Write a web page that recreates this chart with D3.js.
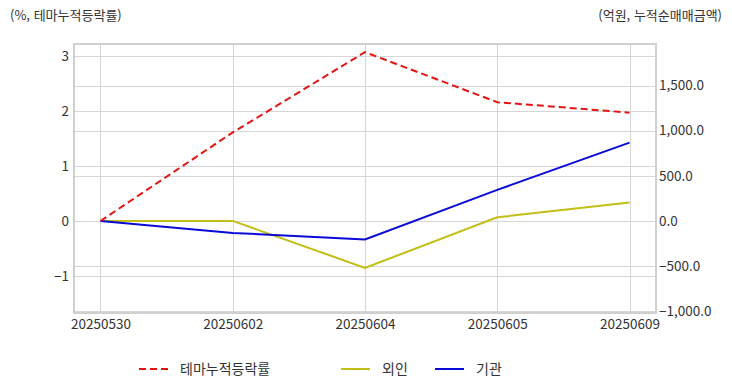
<!DOCTYPE html>
<html lang="ko">
<head>
<meta charset="UTF-8">
<script src="https://d3js.org/d3.v7.min.js"></script>
<style>
  html, body { margin: 0; padding: 0; background: #fff; }
  svg text { font-family: 'Noto Sans CJK KR', 'Noto Sans', sans-serif; fill: #333; }
</style>
</head>
<body>
<div id="chart"></div>
<script>
// dates on the x axis
var dates = ['20250530', '20250602', '20250604', '20250605', '20250609'];
// left axis: theme cumulative change (%)
var themeRate = [0, 1.61, 3.07, 2.16, 1.97];
// right axis: cumulative net buying (100M KRW)
var foreignNet = [0, 0, -520, 40, 205];
var instNet = [0, -133, -205, 344, 867];

var leftTicks = [-1, 0, 1, 2, 3];
var rightTicks = [-1000, -500, 0, 500, 1000, 1500];

var W = 732, H = 392;
var plot = { left: 74, right: 656, top: 44, bottom: 313 };

var svg = d3.select('#chart').append('svg')
  .attr('width', W).attr('height', H);

var x = d3.scalePoint()
  .domain(dates)
  .range([plot.left, plot.right])
  .padding(0.2);

var yL = d3.scaleLinear().domain([-1.673, 3.218]).range([plot.bottom, plot.top]);
var yR = d3.scaleLinear().domain([-1020, 1960]).range([plot.bottom, plot.top]);

// grid
var grid = svg.append('g').attr('stroke', '#d6d6d6').attr('stroke-width', 1);
grid.selectAll('.gl').data(leftTicks).enter().append('line')
  .attr('x1', plot.left).attr('x2', plot.right)
  .attr('y1', function(d) { return Math.round(yL(d)) + 0.5; })
  .attr('y2', function(d) { return Math.round(yL(d)) + 0.5; });
grid.selectAll('.gr').data(rightTicks).enter().append('line')
  .attr('x1', plot.left).attr('x2', plot.right)
  .attr('y1', function(d) { return Math.round(yR(d)) + 0.5; })
  .attr('y2', function(d) { return Math.round(yR(d)) + 0.5; });
grid.selectAll('.gx').data(dates).enter().append('line')
  .attr('y1', plot.top).attr('y2', plot.bottom)
  .attr('x1', function(d) { return Math.round(x(d)) + 0.5; })
  .attr('x2', function(d) { return Math.round(x(d)) + 0.5; });

// frame
svg.append('rect')
  .attr('x', plot.left).attr('y', plot.top)
  .attr('width', plot.right - plot.left).attr('height', plot.bottom - plot.top)
  .attr('fill', 'none').attr('stroke', '#d0d0d0').attr('stroke-width', 2);

// axes
var axL = svg.append('g')
  .attr('transform', 'translate(' + (plot.left - 5) + ',0)')
  .call(d3.axisLeft(yL).tickValues(leftTicks).tickSize(0).tickPadding(0).tickFormat(d3.format('d')));
var axR = svg.append('g')
  .attr('transform', 'translate(' + (plot.right + 3) + ',0)')
  .call(d3.axisRight(yR).tickValues(rightTicks).tickSize(0).tickPadding(0).tickFormat(d3.format(',.1f')));
var axX = svg.append('g')
  .attr('transform', 'translate(0,' + (plot.bottom + 6) + ')')
  .call(d3.axisBottom(x).tickSize(0).tickPadding(0));
[axL, axR, axX].forEach(function(a) {
  a.select('.domain').remove();
  a.selectAll('text').style('font-size', '13.5px').attr('fill', '#333')
    .style('font-family', "'Noto Sans CJK KR', sans-serif");
});

// axis titles
svg.append('text').attr('x', 10).attr('y', 20).style('font-size', '13px')
  .text('(%, 테마누적등락률)');
svg.append('text').attr('x', 722).attr('y', 20).attr('text-anchor', 'end').style('font-size', '13px')
  .text('(억원, 누적순매매금액)');

// lines
var lineL = d3.line().x(function(d, i) { return x(dates[i]); }).y(function(d) { return yL(d); });
var lineR = d3.line().x(function(d, i) { return x(dates[i]); }).y(function(d) { return yR(d); });

svg.append('path').datum(foreignNet).attr('d', lineR)
  .attr('fill', 'none').attr('stroke', '#c2be16').attr('stroke-width', 2);
svg.append('path').datum(instNet).attr('d', lineR)
  .attr('fill', 'none').attr('stroke', '#0a0ad6').attr('stroke-width', 2);
svg.append('path').datum(themeRate).attr('d', lineL)
  .attr('fill', 'none').attr('stroke', '#e31414').attr('stroke-width', 2)
  .attr('stroke-dasharray', '7,4');

// legend
var legendItems = [
  { label: '테마누적등락률', color: '#e31414', dash: '7,4', x: 139 },
  { label: '외인', color: '#c2be16', dash: null, x: 341 },
  { label: '기관', color: '#0a0ad6', dash: null, x: 435 }
];
var lg = svg.selectAll('.legend').data(legendItems).enter().append('g')
  .attr('class', 'legend')
  .attr('transform', function(d) { return 'translate(' + d.x + ',369)'; });
lg.append('line').attr('x1', 0).attr('x2', 29).attr('y1', 0).attr('y2', 0)
  .attr('stroke', function(d) { return d.color; }).attr('stroke-width', 2)
  .attr('stroke-dasharray', function(d) { return d.dash; });
lg.append('text').attr('x', 41).attr('y', 5).style('font-size', '14px')
  .text(function(d) { return d.label; });
</script>
</body>
</html>
